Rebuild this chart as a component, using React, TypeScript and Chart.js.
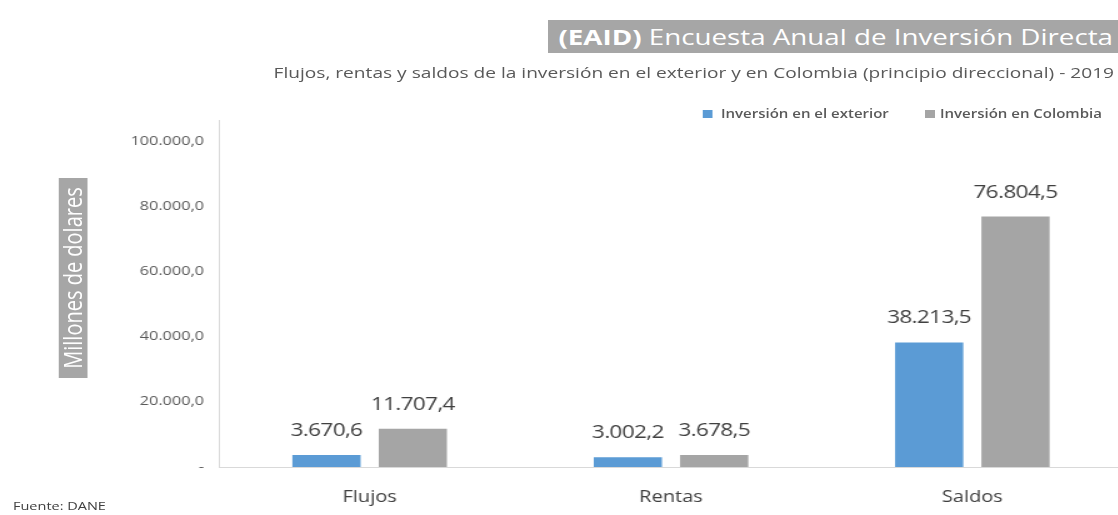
import React, { useEffect, useRef } from "react";
import { Chart, registerables } from "chart.js";

Chart.register(...registerables);

const categories = ["Flujos", "Rentas", "Saldos"];
const exteriorValues = [3670.6, 3002.2, 38213.5];
const colombiaValues = [11707.4, 3678.5, 76804.5];
const seriesNames = ["Inversión en el exterior", "Inversión en Colombia"];
const yTickValues = [0, 20000, 40000, 60000, 80000, 100000];

const titleBold = "(EAID)";
const titleRest = " Encuesta Anual de Inversión Directa";
const subtitle =
  "Flujos, rentas y saldos de la inversión en el exterior y en Colombia (principio direccional) - 2019";
const yAxisTitle = "Millones de dolares";
const sourceText = "Fuente: DANE";

const BLUE = "#5B9BD5";
const GRAY = "#A5A5A5";
const FONT = '"Open Sans", sans-serif';
const SX = 1.25; // horizontal stretch of the original picture
const W = 1118 / SX;
const CHART_W = 1123 / SX;

function fmt(v: number): string {
  const fixed = v.toFixed(1);
  const [intPart, dec] = fixed.split(".");
  const withDots = intPart.replace(/\B(?=(\d{3})+(?!\d))/g, ".");
  return withDots + "," + dec;
}

const dataLabelPlugin = {
  id: "dataLabels",
  afterDatasetsDraw(chart: any) {
    const ctx = chart.ctx;
    ctx.save();
    ctx.font = `18px ${FONT}`;
    try {
      ctx.letterSpacing = "-0.5px";
    } catch (e) {}
    ctx.fillStyle = "#404040";
    ctx.textAlign = "center";
    ctx.textBaseline = "alphabetic";
    chart.data.datasets.forEach((ds: any, i: number) => {
      chart.getDatasetMeta(i).data.forEach((bar: any, j: number) => {
        ctx.fillText(fmt(ds.data[j]), bar.x, bar.y - 19);
      });
    });
    try {
      ctx.letterSpacing = "0px";
    } catch (e) {}
    ctx.restore();
  },
};

export default function App() {
  const canvasRef = useRef<HTMLCanvasElement | null>(null);

  useEffect(() => {
    if (!canvasRef.current) return;
    const chart = new Chart(canvasRef.current, {
      type: "bar",
      data: {
        labels: categories,
        datasets: [
          {
            label: seriesNames[0],
            data: exteriorValues,
            backgroundColor: BLUE,
            categoryPercentage: 0.573,
            barPercentage: 0.79,
          },
          {
            label: seriesNames[1],
            data: colombiaValues,
            backgroundColor: GRAY,
            categoryPercentage: 0.573,
            barPercentage: 0.79,
          },
        ],
      },
      options: {
        animation: false,
        responsive: true,
        maintainAspectRatio: false,
        layout: { padding: { top: 120, left: 0, right: 0, bottom: 0 } },
        plugins: {
          legend: { display: false },
          title: { display: false },
          tooltip: { enabled: false },
        },
        scales: {
          x: {
            grid: { display: false, drawTicks: false },
            border: { display: true, color: "#D9D9D9", width: 1 },
            ticks: {
              color: "#404040",
              font: { family: FONT, size: 16 },
              padding: 21,
            },
            afterFit: (scale: any) => {
              scale.height = 48;
            },
          },
          y: {
            min: 0,
            max: 106400,
            grid: { display: false, drawTicks: false },
            border: { display: true, color: "#D9D9D9", width: 1 },
            afterBuildTicks: (axis: any) => {
              axis.ticks = yTickValues.map((v) => ({ value: v }));
            },
            ticks: {
              color: "#595959",
              font: { family: FONT, size: 13 },
              padding: 12,
              callback: (v: any) => (Number(v) === 0 ? "-" : fmt(Number(v))),
            },
            afterFit: (scale: any) => {
              scale.width = 219 / SX;
            },
          },
        },
      },
      plugins: [dataLabelPlugin],
    });
    return () => chart.destroy();
  }, []);

  return (
    <div
      style={{
        position: "fixed",
        left: 0,
        top: 0,
        width: 1118,
        height: 515,
        background: "#fff",
        overflow: "hidden",
      }}
    >
      <div
        style={{
          position: "absolute",
          left: 0,
          top: 0,
          width: W,
          height: 515,
          transform: `scaleX(${SX})`,
          transformOrigin: "0 0",
          fontFamily: FONT,
        }}
      >
        <div style={{ position: "absolute", left: 0, top: 0, width: CHART_W, height: 515 }}>
          <canvas ref={canvasRef} />
        </div>
        <div
          style={{
            position: "absolute",
            left: 547 / SX,
            top: 20,
            width: W - 547 / SX,
            height: 33,
            background: "#A6A6A6",
            color: "#fff",
            fontSize: 22.2,
            lineHeight: "33px",
            whiteSpace: "nowrap",
            textAlign: "right",
            paddingRight: 4,
            boxSizing: "border-box",
          }}
        >
          <b>{titleBold}</b>
          {titleRest}
        </div>
        <div
          style={{
            position: "absolute",
            right: 4 / SX,
            top: 62,
            color: "#595959",
            fontSize: 15.3,
            lineHeight: "21px",
            whiteSpace: "nowrap",
          }}
        >
          {subtitle}
        </div>
        <div
          style={{
            position: "absolute",
            left: 562.4,
            top: 106,
            display: "flex",
            alignItems: "center",
            fontSize: 12,
            lineHeight: "16px",
            color: "#595959",
            whiteSpace: "nowrap",
            fontWeight: 600,
          }}
        >
          <span style={{ width: 8, height: 8, background: BLUE, display: "inline-block", marginRight: 6.4 }} />
          <span style={{ display: "inline-block", width: 740 - 576.8 }}>{seriesNames[0]}</span>
          <span style={{ width: 8, height: 8, background: GRAY, display: "inline-block", marginRight: 4 }} />
          <span>{seriesNames[1]}</span>
        </div>
        <div
          style={{
            position: "absolute",
            left: 59 / SX,
            top: 178,
            width: 28 / SX,
            height: 200,
            background: "#A6A6A6",
            display: "flex",
            alignItems: "center",
            justifyContent: "center",
          }}
        >
          <div
            style={{
              transform: "rotate(-90deg)",
              color: "#fff",
              fontSize: 20,
              lineHeight: "22px",
              whiteSpace: "nowrap",
            }}
          >
            {yAxisTitle}
          </div>
        </div>
        <div
          style={{
            position: "absolute",
            left: 13 / SX,
            top: 498,
            fontSize: 11.6,
            lineHeight: "15px",
            color: "#404040",
            whiteSpace: "nowrap",
          }}
        >
          {sourceText}
        </div>
      </div>
    </div>
  );
}
